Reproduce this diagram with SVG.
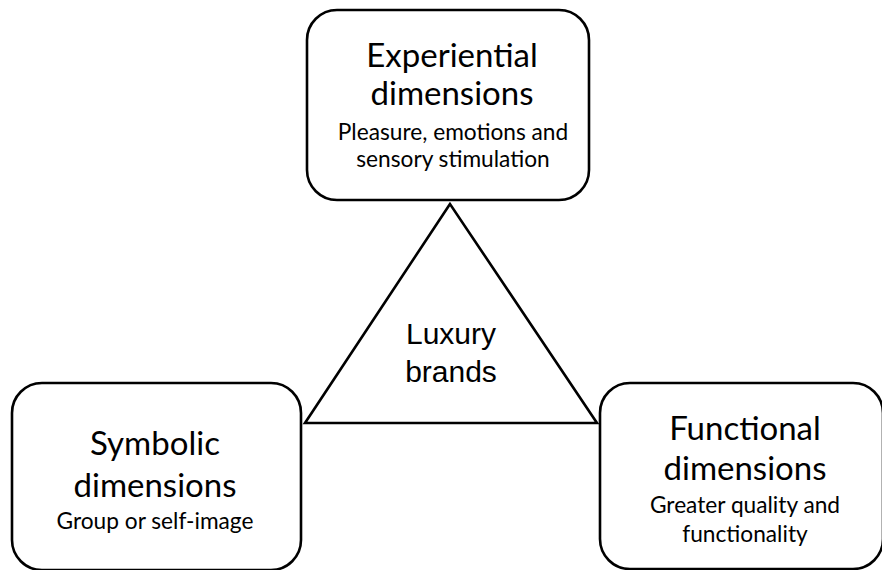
<svg xmlns="http://www.w3.org/2000/svg" width="882" height="570" viewBox="0 0 882 570">
<style>
.box{fill:#fff;stroke:#000;stroke-width:2.6}
.tri{fill:#fff;stroke:#000;stroke-width:2.6;stroke-linejoin:miter}
.t{font-family:Lato,"Carlito","Liberation Sans",sans-serif;fill:#000;text-anchor:middle}
.h{font-size:33px}
.s{font-size:22.7px}
.c{font-family:"Liberation Sans",Arial,sans-serif;font-size:30px;fill:#000;text-anchor:middle}
</style>
<rect width="882" height="570" fill="#fff"/>
<g id="connectors">
<polygon class="tri" points="450,204 305,423 597,423"/>
</g>
<g id="luxury">
<text class="c" x="451" y="344">Luxury</text>
<text class="c" x="451" y="382">brands</text>
</g>
<g id="experiential">
<rect class="box" x="307" y="10" width="282" height="190" rx="30" ry="30"/>
<text class="t h" x="452" y="67">Experiential</text>
<text class="t h" x="452" y="105">dimensions</text>
<text class="t s" x="453" y="140">Pleasure, emotions and</text>
<text class="t s" x="453" y="167">sensory stimulation</text>
</g>
<g id="symbolic">
<rect class="box" x="12" y="383" width="289" height="187" rx="30" ry="30"/>
<text class="t h" x="155" y="455">Symbolic</text>
<text class="t h" x="155" y="497">dimensions</text>
<text class="t s" x="155" y="529">Group or self-image</text>
</g>
<g id="functional">
<rect class="box" x="600" y="383" width="283" height="186" rx="30" ry="30"/>
<text class="t h" x="745" y="440">Functional</text>
<text class="t h" x="745" y="480">dimensions</text>
<text class="t s" x="745" y="513">Greater quality and</text>
<text class="t s" x="745" y="542">functionality</text>
</g>
</svg>
